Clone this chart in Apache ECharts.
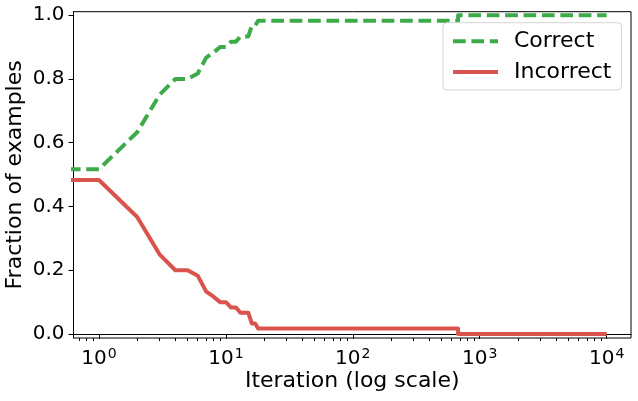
<!DOCTYPE html>
<html>
<head>
<meta charset="utf-8">
<script src="https://cdn.jsdelivr.net/npm/echarts@6/dist/echarts.min.js"></script>
<style>html,body{margin:0;padding:0;background:#fff;}#c{width:638px;height:401px;}</style>
</head>
<body>
<div id="c"></div>
<script>
// Iteration numbers (0 is drawn clipped at the left edge, like a log axis does)
const iterations = [0, 1, 2, 3, 4, 5, 6, 7, 8, 9, 10, 11, 12, 13, 14, 15, 16, 17, 18, 675, 676, 10000];
const correct   = [0.517, 0.517, 0.633, 0.750, 0.800, 0.800, 0.817, 0.867, 0.883, 0.900, 0.900, 0.917, 0.917, 0.933, 0.933, 0.933, 0.967, 0.967, 0.983, 0.983, 1.000, 1.000];
const incorrect = [0.483, 0.483, 0.367, 0.250, 0.200, 0.200, 0.183, 0.133, 0.117, 0.100, 0.100, 0.083, 0.083, 0.067, 0.067, 0.067, 0.033, 0.033, 0.017, 0.017, 0.000, 0.000];
const xMajorTicks = [1, 10, 100, 1000, 10000];
const yTicks = [0.0, 0.2, 0.4, 0.6, 0.8, 1.0];
const seriesNames = ['Correct', 'Incorrect'];

const xMinorTicks = [];
for (let k = -1; k <= 4; k++) {
  for (let m = 2; m <= 9; m++) {
    const v = m * Math.pow(10, k);
    if (v >= 0.63 && v <= 15560) xMinorTicks.push(v);
  }
}
const toPairs = ys => iterations.map((it, i) => [it === 0 ? 1e-3 : it, ys[i]]);

const FONT = 'DejaVu Sans';
const FS = 22;     // axis titles and legend
const TFS = 20;    // tick labels
const GREEN = '#3dab4a';
const RED = '#d9544d';

const chart = echarts.init(document.getElementById('c'), null, {renderer: 'canvas'});
chart.setOption({
  animation: false,
  backgroundColor: '#ffffff',
  textStyle: {fontFamily: FONT},
  grid: {left: 73.5, right: 7, top: 11.7, bottom: 63, show: true, borderColor: '#000', borderWidth: 1,
         backgroundColor: 'transparent', containLabel: false, outerBoundsMode: 'none'},
  legend: {
    data: seriesNames,
    orient: 'vertical',
    left: 443, top: 22.7,
    align: 'left',
    itemWidth: 45, itemHeight: 14, itemGap: 6.7,
    padding: [6.5, 10, 6, 8],
    backgroundColor: 'rgba(255,255,255,0.85)',
    borderColor: '#d4d4d4', borderWidth: 1, borderRadius: 4,
    itemStyle: {opacity: 0},
    lineStyle: {width: 4},
    textStyle: {fontFamily: FONT, fontSize: FS, color: '#000', lineHeight: 24, padding: [0, 0, 0, 11]}
  },
  xAxis: [{
    type: 'log', logBase: 10, min: 0.63, max: 15560,
    position: 'bottom',
    name: 'Iteration (log scale)', nameLocation: 'middle', nameGap: 32, nameMoveOverlap: false,
    nameTextStyle: {fontFamily: FONT, fontSize: FS, color: '#000'},
    axisLine: {show: true, lineStyle: {color: '#000', width: 1}},
    axisTick: {show: true, length: 5, lineStyle: {color: '#000'}, customValues: xMajorTicks},
    splitLine: {show: false},
    minorTick: {show: false},
    axisLabel: {
      customValues: xMajorTicks, margin: 7, color: '#000',
      formatter: v => '{b|10}{s|' + Math.round(Math.log10(v)) + '}',
      rich: {
        b: {fontFamily: FONT, fontSize: TFS, color: '#000', lineHeight: 24, verticalAlign: 'bottom'},
        s: {fontFamily: FONT, fontSize: 14, color: '#000', lineHeight: 24, verticalAlign: 'bottom', padding: [0, 0, 8, 1]}
      }
    }
  }, {
    type: 'log', logBase: 10, min: 0.63, max: 15560,
    position: 'bottom', gridIndex: 0,
    axisLine: {show: false},
    axisTick: {show: true, length: 3, lineStyle: {color: '#000'}, customValues: xMinorTicks},
    axisLabel: {show: false},
    splitLine: {show: false}
  }],
  yAxis: {
    type: 'value', min: -0.0125, max: 1.011,
    name: 'Fraction of examples', nameLocation: 'middle', nameGap: 47, nameMoveOverlap: false,
    nameTextStyle: {fontFamily: FONT, fontSize: FS, color: '#000'},
    axisLine: {show: true, lineStyle: {color: '#000', width: 1}},
    axisTick: {show: true, length: 5, lineStyle: {color: '#000'}, customValues: yTicks},
    splitLine: {show: false},
    axisLabel: {customValues: yTicks, margin: 9, fontFamily: FONT, fontSize: TFS, color: '#000', formatter: v => v.toFixed(1)}
  },
  series: [{
    name: seriesNames[0], type: 'line', data: toPairs(correct), xAxisIndex: 0,
    showSymbol: false, symbol: 'none', clip: true,
    lineStyle: {color: GREEN, width: 4, type: [12.7, 5.7], cap: 'butt', join: 'round'},
    itemStyle: {color: GREEN}
  }, {
    name: seriesNames[1], type: 'line', data: toPairs(incorrect), xAxisIndex: 0,
    showSymbol: false, symbol: 'none', clip: true,
    lineStyle: {color: RED, width: 4, type: 'solid', cap: 'butt', join: 'round'},
    itemStyle: {color: RED}
  }]
});
</script>
</body>
</html>
